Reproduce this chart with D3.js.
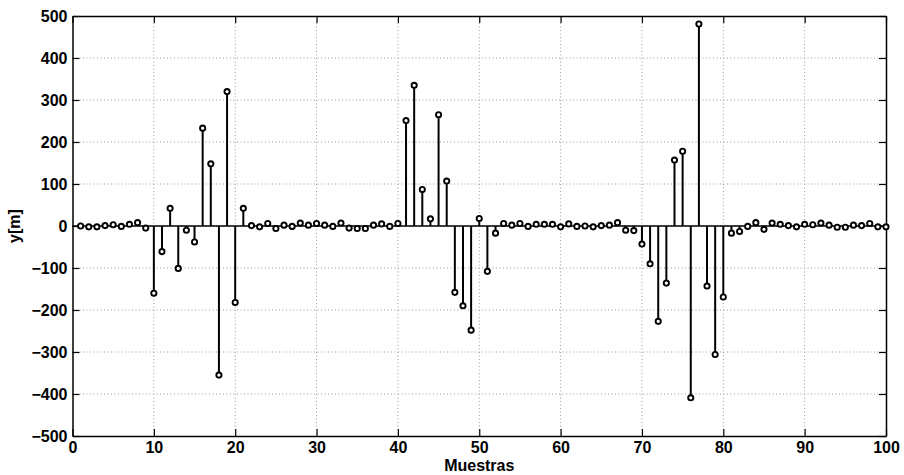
<!DOCTYPE html>
<html>
<head>
<meta charset="utf-8">
<script src="https://cdn.jsdelivr.net/npm/d3@7"></script>
<style>
  body { margin: 0; background: #fff; }
  svg { display: block; }
  text { font-family: "Liberation Sans", Arial, sans-serif; font-weight: bold; }
</style>
</head>
<body>
<div id="chart"></div>
<script>
// sample index (Muestras) and stem heights y[m]
var muestras = d3.range(1, 101);
var yValues = [
    0, -2, -2, 1, 3, -1, 4, 8, -5, -160,
    -61, 42, -101, -10, -38, 233, 148, -355, 320, -182,
    42, 1, -2, 6, -6, 2, -1, 7, 2, 6,
    2, -1, 7, -5, -6, -6, 2, 5, -1, 6,
    251, 335, 87, 17, 265, 107, -158, -190, -248, 18,
    -108, -17, 6, 2, 6, -1, 4, 4, 4, -2,
    5, -1, 0, -2, 1, 2, 8, -10, -11, -43,
    -90, -227, -136, 157, 178, -409, 481, -143, -306, -169,
    -17, -13, -1, 8, -8, 7, 4, 1, -2, 4,
    3, 7, 2, -3, -3, 2, 1, 6, -2, -2
];
var xTicks = [0, 10, 20, 30, 40, 50, 60, 70, 80, 90, 100];
var yTicks = [-500, -400, -300, -200, -100, 0, 100, 200, 300, 400, 500];

var width = 904, height = 475;
var margin = {top: 16, right: 18, bottom: 39, left: 72.5};

var svg = d3.select('#chart')
    .append('svg')
    .attr('width', width)
    .attr('height', height);

var x = d3.scaleLinear()
    .domain([0, 100])
    .range([margin.left, width - margin.right]);

var y = d3.scaleLinear()
    .domain([-500, 500])
    .range([height - margin.bottom, margin.top]);

//grid
var grid = svg.append('g')
    .attr('stroke', '#9a9a9a')
    .attr('stroke-width', 1)
    .attr('stroke-dasharray', '1,2.5');

grid.selectAll('.vgrid')
    .data(xTicks.slice(1, -1))
    .join('line')
    .attr('x1', d => x(d)).attr('x2', d => x(d))
    .attr('y1', y(500)).attr('y2', y(-500));

grid.selectAll('.hgrid')
    .data(yTicks.slice(1, -1))
    .join('line')
    .attr('x1', x(0)).attr('x2', x(100))
    .attr('y1', d => y(d)).attr('y2', d => y(d));

//axes with inward ticks, box on all sides
function styleAxis(g) {
    g.selectAll('.domain').attr('stroke', '#000').attr('stroke-width', 1.5);
    g.selectAll('.tick line').attr('stroke', '#000').attr('stroke-width', 1.2);
    g.selectAll('text').attr('fill', '#000').style('font-size', '16px')
        .style('font-family', '"Liberation Sans", Arial, sans-serif').style('font-weight', 'bold');
}

svg.append('g')
    .attr('transform', `translate(0,${y(-500)})`)
    .call(d3.axisBottom(x).tickValues(xTicks).tickSizeInner(-7).tickSizeOuter(0).tickPadding(6))
    .call(styleAxis);

svg.append('g')
    .attr('transform', `translate(0,${y(500)})`)
    .call(d3.axisTop(x).tickValues(xTicks).tickSizeInner(-7).tickSizeOuter(0).tickFormat(''))
    .call(styleAxis);

svg.append('g')
    .attr('transform', `translate(${x(0)},0)`)
    .call(d3.axisLeft(y).tickValues(yTicks).tickSizeInner(-7).tickSizeOuter(0).tickPadding(5)
        .tickFormat(d => d < 0 ? '\u2212' + Math.abs(d) : d))
    .call(styleAxis);

svg.append('g')
    .attr('transform', `translate(${x(100)},0)`)
    .call(d3.axisRight(y).tickValues(yTicks).tickSizeInner(-7).tickSizeOuter(0).tickFormat(''))
    .call(styleAxis);

//baseline
svg.append('line')
    .attr('x1', x(0)).attr('x2', x(100))
    .attr('y1', y(0)).attr('y2', y(0))
    .attr('stroke', '#000')
    .attr('stroke-width', 1.5);

//stems
var data = muestras.map((m, i) => ({m: m, v: yValues[i]}));

svg.append('g')
    .selectAll('line')
    .data(data)
    .join('line')
    .attr('x1', d => x(d.m)).attr('x2', d => x(d.m))
    .attr('y1', y(0)).attr('y2', d => y(d.v))
    .attr('stroke', '#000')
    .attr('stroke-width', 2);

svg.append('g')
    .selectAll('circle')
    .data(data)
    .join('circle')
    .attr('cx', d => x(d.m))
    .attr('cy', d => y(d.v))
    .attr('r', 2.6)
    .attr('fill', '#fff')
    .attr('stroke', '#000')
    .attr('stroke-width', 1.9);

//labels
svg.append('text')
    .attr('x', (x(0) + x(100)) / 2)
    .attr('y', 471)
    .attr('text-anchor', 'middle')
    .style('font-size', '16px')
    .text('Muestras');

svg.append('text')
    .attr('transform', `translate(20,${y(0)}) rotate(-90)`)
    .attr('text-anchor', 'middle')
    .style('font-size', '16px')
    .text('y[m]');
</script>
</body>
</html>
